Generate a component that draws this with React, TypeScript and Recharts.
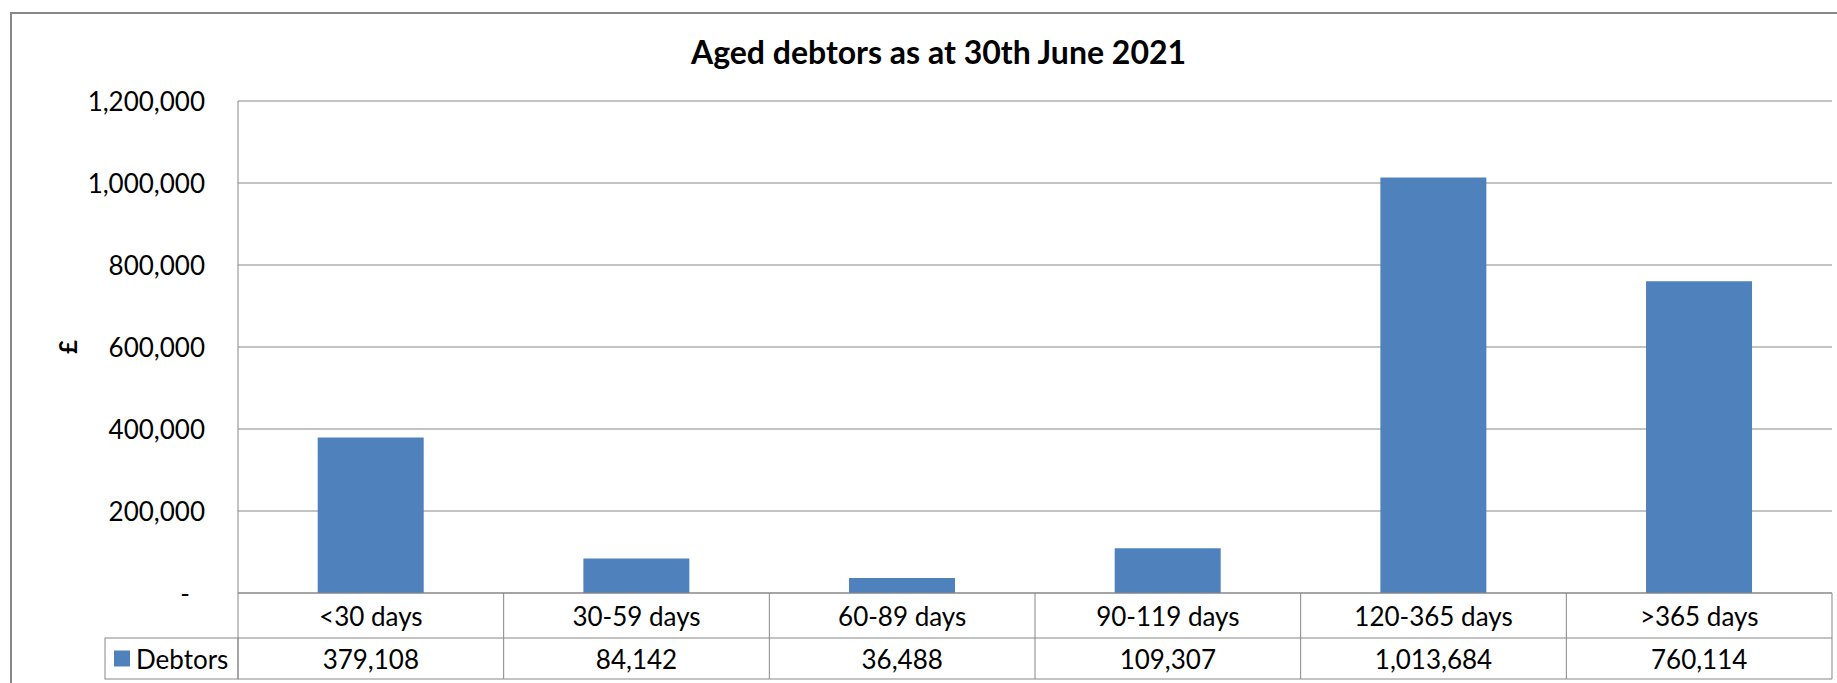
import * as React from 'react';
import { BarChart, Bar, XAxis, YAxis, CartesianGrid } from 'recharts';

const categories = ['<30 days', '30-59 days', '60-89 days', '90-119 days', '120-365 days', '>365 days'];
const debtors = [379108, 84142, 36488, 109307, 1013684, 760114];
const yTicks = [0, 200000, 400000, 600000, 800000, 1000000, 1200000];
const seriesName = 'Debtors';
const title = 'Aged debtors as at 30th June 2021';
const yLabel = '£';

const data = categories.map((c, i) => ({ category: c, debtors: debtors[i] }));

const FONT = 'Lato, "Open Sans", sans-serif';
const GRID = '#878787';
const BLUE = '#4F81BD';
const FS = 26;

const fmt = (v: number) => (v === 0 ? '-' : v.toLocaleString('en-US'));

const YTick = (props: any) => {
    const { x, y, payload } = props;
    const dash = payload.value === 0;
    return (
        <text
            x={dash ? x - 15 : x}
            y={y}
            textAnchor="end"
            dominantBaseline="central"
            fontSize={FS}
            fontFamily={FONT}
            fill="#000"
        >
            {fmt(payload.value)}
        </text>
    );
};

// draws the data table under the plot, one column per category
const TableTick = (props: any) => {
    const { x, y, payload, index } = props;
    const bw = payload.offset ? payload.offset * 2 : 265.7;
    const left = x - bw / 2;
    const right = x + bw / 2;
    const r1 = 45;
    const r2 = 41;
    const last = index === categories.length - 1;
    return (
        <g>
            <line x1={left} y1={y} x2={left} y2={y + r1 + r2} stroke={GRID} />
            {last && <line x1={right} y1={y} x2={right} y2={y + r1 + r2} stroke={GRID} />}
            <line x1={left} y1={y + r1} x2={right} y2={y + r1} stroke={GRID} />
            <line x1={left} y1={y + r1 + r2} x2={right} y2={y + r1 + r2} stroke={GRID} />
            <text x={x} y={y + r1 / 2} textAnchor="middle" dominantBaseline="central" fontSize={FS} fontFamily={FONT} fill="#000">
                {payload.value}
            </text>
            <text x={x} y={y + r1 + r2 / 2} textAnchor="middle" dominantBaseline="central" fontSize={FS} fontFamily={FONT} fill="#000">
                {fmt(debtors[index])}
            </text>
            {index === 0 && (
                <g>
                    <rect x={left - 133} y={y + r1} width={133} height={r2} fill="none" stroke={GRID} />
                    <rect x={left - 124} y={y + r1 + r2 / 2 - 8} width={16} height={16} fill={BLUE} />
                    <text x={left - 102} y={y + r1 + r2 / 2} dominantBaseline="central" fontSize={FS} fontFamily={FONT} fill="#000">
                        {seriesName}
                    </text>
                </g>
            )}
        </g>
    );
};

const YLabel = (props: any) => {
    const { viewBox } = props;
    const cx = viewBox.x + 67;
    const cy = viewBox.y + viewBox.height / 2;
    return (
        <text
            x={cx}
            y={cy}
            transform={`rotate(-90, ${cx}, ${cy})`}
            textAnchor="middle"
            dominantBaseline="central"
            fontSize={24}
            fontWeight="bold"
            fontFamily={FONT}
            fill="#000"
        >
            {yLabel}
        </text>
    );
};

const App = () => {
    return (
        <div style={{ position: 'fixed', left: 0, top: 0, width: 1837, height: 683, overflow: 'hidden', background: '#fff' }}>
            <div
                style={{
                    position: 'absolute',
                    left: 10,
                    top: 12,
                    width: 1900,
                    height: 800,
                    borderLeft: `2px solid ${GRID}`,
                    borderTop: `2px solid ${GRID}`
                }}
            />
            <div
                style={{
                    position: 'absolute',
                    left: 20,
                    top: 35,
                    width: 1837,
                    textAlign: 'center',
                    fontFamily: FONT,
                    fontWeight: 'bold',
                    fontSize: 32,
                    lineHeight: '34px',
                    color: '#000'
                }}
            >
                {title}
            </div>
            <div style={{ position: 'absolute', left: 0, top: 0 }}>
                <BarChart
                    width={1837}
                    height={683}
                    data={data}
                    margin={{ top: 101, right: 5, left: 0, bottom: 4 }}
                    barCategoryGap="30%"
                >
                    <CartesianGrid vertical={false} stroke={GRID} />
                    <XAxis
                        dataKey="category"
                        height={86}
                        tickLine={false}
                        tickSize={0}
                        tickMargin={0}
                        axisLine={{ stroke: GRID }}
                        tick={<TableTick />}
                        interval={0}
                    />
                    <YAxis
                        width={238}
                        domain={[0, 1200000]}
                        ticks={yTicks}
                        tickLine={false}
                        tickSize={0}
                        tickMargin={33}
                        axisLine={{ stroke: GRID }}
                        tick={<YTick />}
                        label={<YLabel />}
                        interval={0}
                    />
                    <Bar dataKey="debtors" name={seriesName} fill={BLUE} isAnimationActive={false} />
                </BarChart>
            </div>
        </div>
    );
};

export default App;
